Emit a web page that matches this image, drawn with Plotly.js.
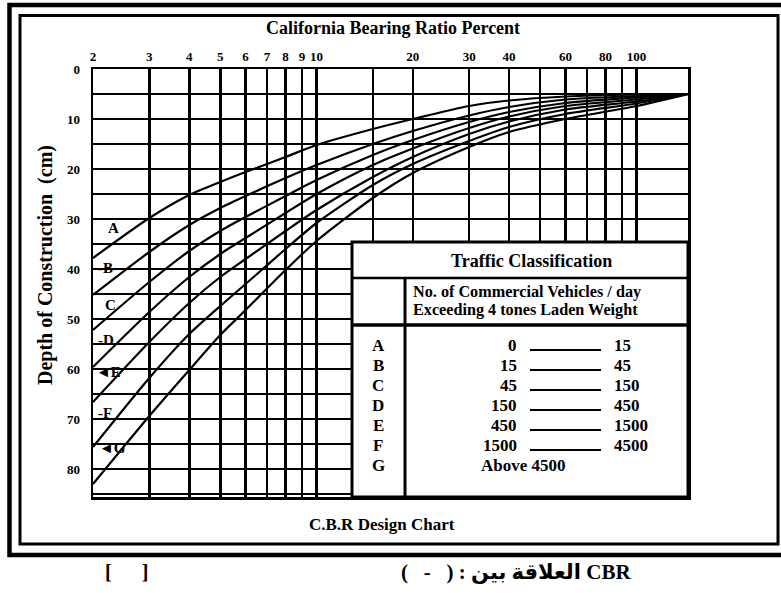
<!DOCTYPE html>
<html>
<head>
<meta charset="utf-8">
<script src="https://cdn.plot.ly/plotly-3.0.1.min.js"></script>
<style>
  html, body { margin: 0; padding: 0; background: #fff; }
  #chart { width: 781px; height: 593px; }
</style>
</head>
<body>
<div id="chart"></div>
<script>
// California Bearing Ratio (%) at which each design curve is sampled
const cbrPercent = [2, 3, 4, 5, 6, 8, 10, 15, 20, 30, 40, 60, 100, 145];

// Depth of construction (cm) for each traffic class curve
const depthA = [37.8, 29.8, 25.2, 22.6, 20.6, 17.6, 15.2, 12.0, 10.0, 7.4, 6.3, 5.5, 5.1, 5.0];
const depthB = [45.2, 36.6, 31.2, 27.8, 25.4, 21.8, 19.2, 15.0, 12.4, 9.3, 7.6, 6.1, 5.4, 5.0];
const depthC = [52.2, 42.6, 36.4, 32.4, 29.6, 25.4, 22.2, 17.2, 14.2, 10.6, 8.6, 6.8, 5.7, 5.0];
const depthD = [59.6, 48.6, 41.6, 37.0, 33.8, 28.8, 25.0, 19.2, 15.9, 11.8, 9.5, 7.4, 6.1, 5.0];
const depthE = [66.6, 54.6, 46.8, 41.6, 38.0, 32.4, 28.2, 21.6, 17.6, 13.0, 10.5, 8.1, 6.5, 5.0];
const depthF = [75.6, 61.8, 53.0, 47.4, 43.0, 36.0, 30.8, 23.2, 19.0, 14.4, 11.6, 9.0, 6.9, 5.0];
const depthG = [83.0, 69.4, 60.2, 53.2, 48.2, 40.2, 34.4, 25.8, 20.8, 15.6, 12.6, 10.0, 7.4, 5.0];

const curveNames = ['A', 'B', 'C', 'D', 'E', 'F', 'G'];
const curveDepths = [depthA, depthB, depthC, depthD, depthE, depthF, depthG];

// Commercial vehicles per day (> 4 t laden weight) for each class
const vehiclesFrom = [0, 15, 45, 150, 450, 1500, 4500];
const vehiclesTo = [15, 45, 150, 450, 1500, 4500, null];

// Axis ticks
const cbrTickVals = [2, 3, 4, 5, 6, 7, 8, 9, 10, 20, 30, 40, 60, 80, 100];
const cbrExtraGrid = [15, 50, 70, 90];
const depthTickVals = [0, 10, 20, 30, 40, 50, 60, 70, 80];

// ---- page geometry (pixels) ----
const W = 781, H = 593;
const M = { l: 93, r: 93, t: 69, b: 96 };
const plotW = W - M.l - M.r, plotH = H - M.t - M.b;
const fx = p => (p - M.l) / plotW;           // pixel x -> paper x
const fy = p => (H - M.b - p) / plotH;       // pixel y -> paper y

const SERIF = 'Liberation Serif, "Times New Roman", Times, serif';
const bold = (size) => ({ family: SERIF, size: size, color: '#000', weight: 'bold' });

const traces = curveNames.map((name, i) => ({
  type: 'scatter',
  mode: 'lines',
  name: name,
  x: cbrPercent,
  y: curveDepths[i],
  line: { color: '#000', width: 2.2, shape: 'spline', smoothing: 0.7 },
  hoverinfo: 'x+y+name'
}));

const annotations = [];
const shapes = [];

// titles
annotations.push({ xref: 'paper', yref: 'paper', x: fx(393), y: fy(28), text: 'California Bearing Ratio Percent',
  showarrow: false, xanchor: 'center', yanchor: 'middle', font: bold(18) });
annotations.push({ xref: 'paper', yref: 'paper', x: fx(382), y: fy(524), text: 'C.B.R Design Chart',
  showarrow: false, xanchor: 'center', yanchor: 'middle', font: bold(17) });
annotations.push({ xref: 'paper', yref: 'paper', x: fx(45), y: fy(265), text: 'Depth of Construction  (cm)',
  textangle: -90, showarrow: false, xanchor: 'center', yanchor: 'middle', font: bold(20) });
// caption line under the frame (left-to-right mark keeps the brackets on the left)
annotations.push({ xref: 'paper', yref: 'paper', x: fx(516), y: fy(572), text: '\u200E(   -   ) : العلاقة بين CBR',
  showarrow: false, xanchor: 'center', yanchor: 'middle', font: { family: SERIF + ', DejaVu Sans', size: 21, color: '#000', weight: 'bold' } });
annotations.push({ xref: 'paper', yref: 'paper', x: fx(126), y: fy(572), text: '[      ]',
  showarrow: false, xanchor: 'center', yanchor: 'middle', font: bold(20) });

// curve letters along the left edge
const curveLabelText = ['A', '-B', 'C', '-D', '◄E', '-F', '◄G'];
const curveLabelPos = [[106, 228], [96, 268], [103, 305], [96, 340], [94, 372], [96, 413], [97, 448]];
curveLabelText.forEach((t, i) => {
  annotations.push({ xref: 'paper', yref: 'paper', x: fx(curveLabelPos[i][0]), y: fy(curveLabelPos[i][1]),
    text: t, showarrow: false, xanchor: 'left', yanchor: 'middle', font: bold(15) });
});

// traffic classification table
const T = { l: 352, r: 688, t: 242, b: 497, row1: 278, row2: 325, col: 405 };
shapes.push({ type: 'rect', xref: 'paper', yref: 'paper', x0: fx(T.l), x1: fx(T.r), y0: fy(T.b), y1: fy(T.t),
  fillcolor: '#fff', line: { color: '#000', width: 3 }, layer: 'above' });
shapes.push({ type: 'line', xref: 'paper', yref: 'paper', x0: fx(T.l), x1: fx(T.r), y0: fy(T.row1), y1: fy(T.row1),
  line: { color: '#000', width: 2.5 } });
shapes.push({ type: 'line', xref: 'paper', yref: 'paper', x0: fx(T.l), x1: fx(T.r), y0: fy(T.row2), y1: fy(T.row2),
  line: { color: '#000', width: 3.5 } });
shapes.push({ type: 'line', xref: 'paper', yref: 'paper', x0: fx(T.col), x1: fx(T.col), y0: fy(T.b), y1: fy(T.row1),
  line: { color: '#000', width: 3 } });

annotations.push({ xref: 'paper', yref: 'paper', x: fx(531), y: fy(261), text: 'Traffic Classification',
  showarrow: false, xanchor: 'center', yanchor: 'middle', font: bold(18) });
annotations.push({ xref: 'paper', yref: 'paper', x: fx(411), y: fy(292), text: 'No. of Commercial Vehicles / day',
  showarrow: false, xanchor: 'left', yanchor: 'middle', font: bold(16.2) });
annotations.push({ xref: 'paper', yref: 'paper', x: fx(411), y: fy(310), text: 'Exceeding 4 tones Laden Weight',
  showarrow: false, xanchor: 'left', yanchor: 'middle', font: bold(16.2) });

curveNames.forEach((name, i) => {
  const rowY = 345 + 20 * i;
  annotations.push({ xref: 'paper', yref: 'paper', x: fx(378), y: fy(rowY), text: name,
    showarrow: false, xanchor: 'center', yanchor: 'middle', font: bold(17) });
  if (vehiclesTo[i] !== null) {
    annotations.push({ xref: 'paper', yref: 'paper', x: fx(519), y: fy(rowY), text: String(vehiclesFrom[i]),
      showarrow: false, xanchor: 'right', yanchor: 'middle', font: bold(17) });
    annotations.push({ xref: 'paper', yref: 'paper', x: fx(612), y: fy(rowY), text: String(vehiclesTo[i]),
      showarrow: false, xanchor: 'left', yanchor: 'middle', font: bold(17) });
    shapes.push({ type: 'line', xref: 'paper', yref: 'paper', x0: fx(530), x1: fx(601), y0: fy(rowY + 5), y1: fy(rowY + 5),
      line: { color: '#000', width: 2 } });
  } else {
    annotations.push({ xref: 'paper', yref: 'paper', x: fx(479), y: fy(rowY), text: 'Above ' + vehiclesFrom[i],
      showarrow: false, xanchor: 'left', yanchor: 'middle', font: bold(17) });
  }
});

// double page frame
shapes.push({ type: 'rect', xref: 'paper', yref: 'paper', x0: fx(9.5), x1: fx(800), y0: fy(555), y1: fy(5),
  line: { color: '#000', width: 4.5 }, fillcolor: 'rgba(0,0,0,0)' });
shapes.push({ type: 'rect', xref: 'paper', yref: 'paper', x0: fx(20), x1: fx(778), y0: fy(544), y1: fy(15.5),
  line: { color: '#000', width: 3 }, fillcolor: 'rgba(0,0,0,0)' });

const layout = {
  width: W, height: H,
  margin: { l: M.l, r: M.r, t: M.t, b: M.b, pad: 0 },
  paper_bgcolor: '#fff', plot_bgcolor: '#fff',
  showlegend: false,
  font: bold(13),
  xaxis: {
    type: 'log', side: 'top',
    range: [Math.log10(2), Math.log10(145)],
    tickmode: 'array', tickvals: cbrTickVals, ticktext: cbrTickVals.map(String),
    ticks: '', ticklabelstandoff: 0,
    tickfont: bold(13),
    showgrid: true, gridcolor: '#000', gridwidth: 2.5,
    minor: { tickmode: 'array', tickvals: cbrExtraGrid, showgrid: true, gridcolor: '#000', gridwidth: 2.5, ticks: '' },
    showline: true, linecolor: '#000', linewidth: 2.5, mirror: true,
    zeroline: false, fixedrange: true
  },
  yaxis: {
    range: [85.6, 0],
    tickmode: 'array', tickvals: depthTickVals, ticktext: depthTickVals.map(String),
    ticks: '', ticklabelstandoff: 8,
    tickfont: bold(13),
    showgrid: true, gridcolor: '#000', gridwidth: 2.5,
    minor: { dtick: 5, tick0: 0, showgrid: true, gridcolor: '#000', gridwidth: 2.5, ticks: '' },
    showline: true, linecolor: '#000', linewidth: 2.5, mirror: true,
    zeroline: false, fixedrange: true
  },
  shapes: shapes,
  annotations: annotations
};

Plotly.newPlot('chart', traces, layout, { displayModeBar: false, staticPlot: true });
</script>
</body>
</html>
